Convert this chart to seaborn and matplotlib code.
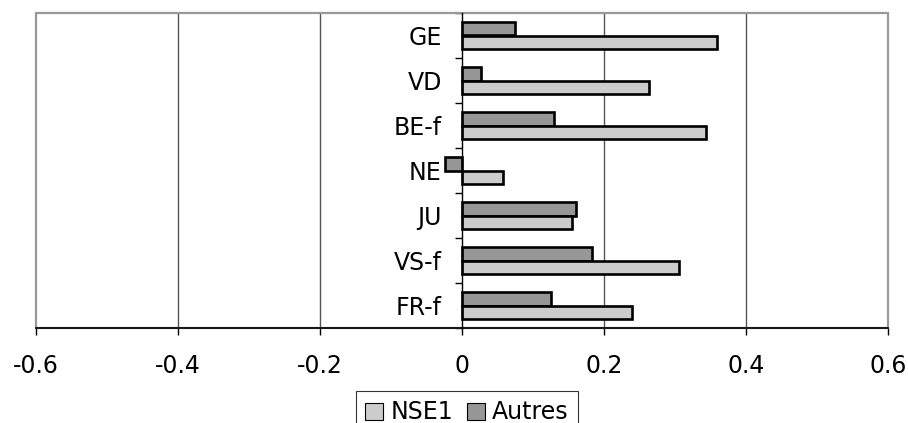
import matplotlib
matplotlib.use("Agg")
import matplotlib.pyplot as plt
from matplotlib.patches import Patch, Rectangle
import seaborn as sns
import pandas as pd

# Regions, listed from top to bottom
regions = ["GE", "VD", "BE-f", "NE", "JU", "VS-f", "FR-f"]
nse1 = [0.359, 0.263, 0.344, 0.058, 0.155, 0.306, 0.240]
autres = [0.074, 0.027, 0.129, -0.024, 0.160, 0.183, 0.125]
xticks = [-0.6, -0.4, -0.2, 0.0, 0.2, 0.4, 0.6]
xtick_labels = ["-0.6", "-0.4", "-0.2", "0", "0.2", "0.4", "0.6"]

df = pd.DataFrame({
    "region": regions * 2,
    "value": nse1 + autres,
    "series": ["NSE1"] * len(regions) + ["Autres"] * len(regions),
})

colors = {"NSE1": "#cccccc", "Autres": "#969696"}

sns.set_style("white")
plt.rcParams["font.family"] = ["DejaVu Sans"]
plt.rcParams["text.color"] = "black"
plt.rcParams["xtick.color"] = "black"
plt.rcParams["ytick.color"] = "black"
plt.rcParams["axes.labelcolor"] = "black"

fs = 17

fig = plt.figure(figsize=(9.08, 4.23), dpi=100)
ax = fig.add_axes([36 / 908, 1 - 328 / 423, 852 / 908, 315 / 423])

sns.barplot(
    data=df, y="region", x="value", hue="series",
    order=regions, hue_order=["Autres", "NSE1"],
    palette=colors, width=0.58, orient="h",
    edgecolor="black", linewidth=1.9, legend=False, ax=ax, zorder=3,
)

ax.set_xlim(-0.6, 0.6)
ax.set_ylim(len(regions) - 0.5, -0.5)
ax.set_xlabel("")
ax.set_ylabel("")

# vertical gridlines
for v in xticks[1:-1]:
    if v != 0:
        ax.axvline(v, color="#555555", lw=1.0, zorder=1)

# plot-area frame
ax.add_patch(Rectangle((0, 0), 1, 1, transform=ax.transAxes, fill=False,
                       edgecolor="#999999", lw=1.6, zorder=2, clip_on=False))
for side in ["top", "right"]:
    ax.spines[side].set_visible(False)
ax.spines["left"].set_position(("data", 0))
ax.spines["left"].set_color("black")
ax.spines["left"].set_linewidth(1.0)
ax.spines["left"].set_zorder(4)
ax.spines["bottom"].set_color("black")
ax.spines["bottom"].set_linewidth(1.2)
ax.spines["bottom"].set_zorder(4)

ax.set_xticks(xticks)
ax.set_xticklabels(xtick_labels)
ax.tick_params(axis="x", bottom=True, direction="out", length=5, width=1,
               color="black", labelcolor="black", labelsize=fs, pad=14)

# category labels at band centres, tick marks at band boundaries
ax.set_yticks(range(len(regions)))
ax.set_yticklabels(regions)
ax.set_yticks([i - 0.5 for i in range(len(regions) + 1)], minor=True)
ax.tick_params(axis="y", which="major", left=True, length=0, pad=14.5,
               labelsize=fs, labelcolor="black")
ax.tick_params(axis="y", which="minor", left=True, length=5, width=1, color="black")

handles = [Patch(facecolor=colors["NSE1"], edgecolor="black", lw=0.8, label="NSE1"),
           Patch(facecolor=colors["Autres"], edgecolor="black", lw=0.8, label="Autres")]
leg = fig.legend(handles=handles, loc="upper center",
                 bbox_to_anchor=(467 / 908, 1 - 391 / 423),
                 bbox_transform=fig.transFigure, ncol=2, fontsize=fs,
                 frameon=True, fancybox=False, edgecolor="black",
                 handlelength=0.75, handleheight=0.75, handletextpad=0.3,
                 columnspacing=0.6, borderpad=0.4, borderaxespad=0)
leg.get_frame().set_linewidth(0.8)

fig.savefig("out.png", dpi=100)
